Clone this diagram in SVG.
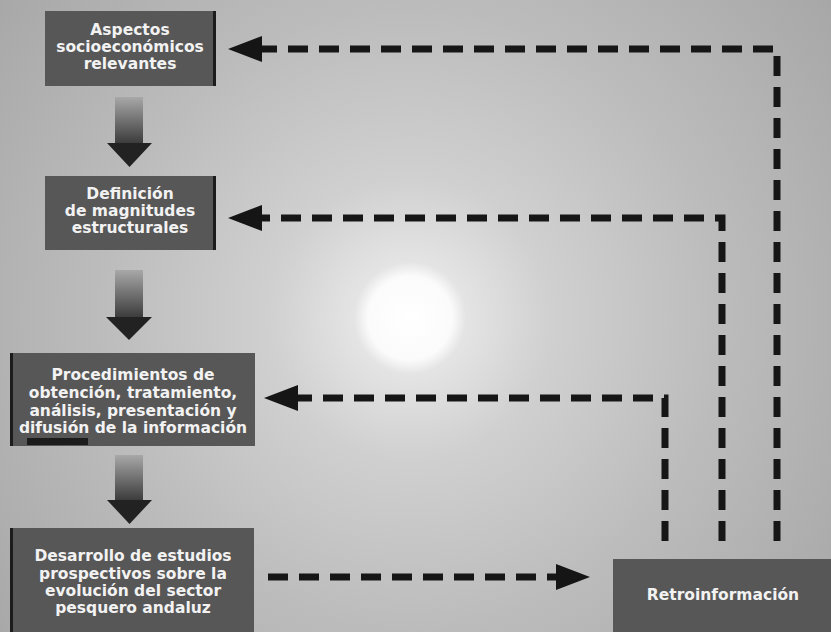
<svg xmlns="http://www.w3.org/2000/svg" width="831" height="632" viewBox="0 0 831 632">
<defs>
<radialGradient id="bg" cx="410" cy="318" r="560" gradientUnits="userSpaceOnUse">
<stop offset="0" stop-color="#ffffff"/>
<stop offset="0.075" stop-color="#fbfbfb"/>
<stop offset="0.1" stop-color="#e4e4e4"/>
<stop offset="0.25" stop-color="#d0d0d0"/>
<stop offset="0.55" stop-color="#bcbcbc"/>
<stop offset="1" stop-color="#a4a4a4"/>
</radialGradient>
<linearGradient id="shaft" x1="0" y1="0" x2="0" y2="1">
<stop offset="0" stop-color="#a8a8a8"/>
<stop offset="1" stop-color="#3a3a3a"/>
</linearGradient>
<marker id="ah" markerUnits="userSpaceOnUse" viewBox="0 0 34 26" markerWidth="34" markerHeight="26" refX="1" refY="13" orient="auto">
<path d="M0,0 L34,13 L0,26 Z" fill="#151515"/>
</marker>
</defs>
<style>
.box{fill:#575757}
.edge{fill:#1c1c1c}
.t{font-family:"DejaVu Sans","Verdana",sans-serif;font-weight:bold;font-size:15.5px;fill:#f2f2f2;text-anchor:middle}
.dash{fill:none;stroke:#161616;stroke-width:7;stroke-dasharray:20 11}
.head{fill:#222}
</style>
<rect width="831" height="632" fill="url(#bg)"/>

<g id="n1">
<rect class="box" x="45" y="11" width="171" height="75"/>
<rect class="edge" x="213" y="11" width="3" height="75"/>
<text class="t" x="130" y="35">Aspectos</text>
<text class="t" x="130" y="52">socioeconómicos</text>
<text class="t" x="130" y="69">relevantes</text>
</g>

<g id="n2">
<rect class="box" x="45" y="176" width="171" height="74"/>
<rect class="edge" x="213" y="176" width="3" height="74"/>
<text class="t" x="130" y="199">Definición</text>
<text class="t" x="130" y="216">de magnitudes</text>
<text class="t" x="130" y="233">estructurales</text>
</g>

<g id="n3">
<rect class="box" x="10" y="353" width="245" height="93"/>
<rect class="edge" x="10" y="353" width="3" height="93"/>
<rect class="edge" x="27" y="438" width="61" height="7"/>
<text class="t" x="133" y="380">Procedimientos de</text>
<text class="t" x="133" y="398">obtención, tratamiento,</text>
<text class="t" x="133" y="416">análisis, presentación y</text>
<text class="t" x="133" y="433">difusión de la información</text>
</g>

<g id="n4">
<rect class="box" x="10" y="528" width="244" height="104"/>
<rect class="edge" x="10" y="528" width="3" height="104"/>
<text class="t" x="133" y="561">Desarrollo de estudios</text>
<text class="t" x="133" y="579">prospectivos sobre la</text>
<text class="t" x="133" y="596">evolución del sector</text>
<text class="t" x="133" y="613">pesquero andaluz</text>
</g>

<g id="n5">
<rect class="box" x="613" y="559" width="218" height="73"/>
<text class="t" x="723" y="600">Retroinformación</text>
</g>

<g id="connectors">
<g id="flow">
<rect x="115" y="97" width="28" height="47" fill="url(#shaft)"/>
<polygon class="head" points="107,143 152,143 129.5,167"/>
<rect x="115" y="270" width="28" height="48" fill="url(#shaft)"/>
<polygon class="head" points="106,317 152,317 129,340"/>
<rect x="115" y="455" width="28" height="46" fill="url(#shaft)"/>
<polygon class="head" points="107,500 152,500 129.5,524"/>
</g>
<path class="dash" d="M777,541 V49 H261" marker-end="url(#ah)"/>
<path class="dash" d="M722,541 V218 H261" marker-end="url(#ah)"/>
<path class="dash" d="M665,541 V398 H297" marker-end="url(#ah)"/>
<path class="dash" d="M268,577 H557" marker-end="url(#ah)"/>
</g>
</svg>
